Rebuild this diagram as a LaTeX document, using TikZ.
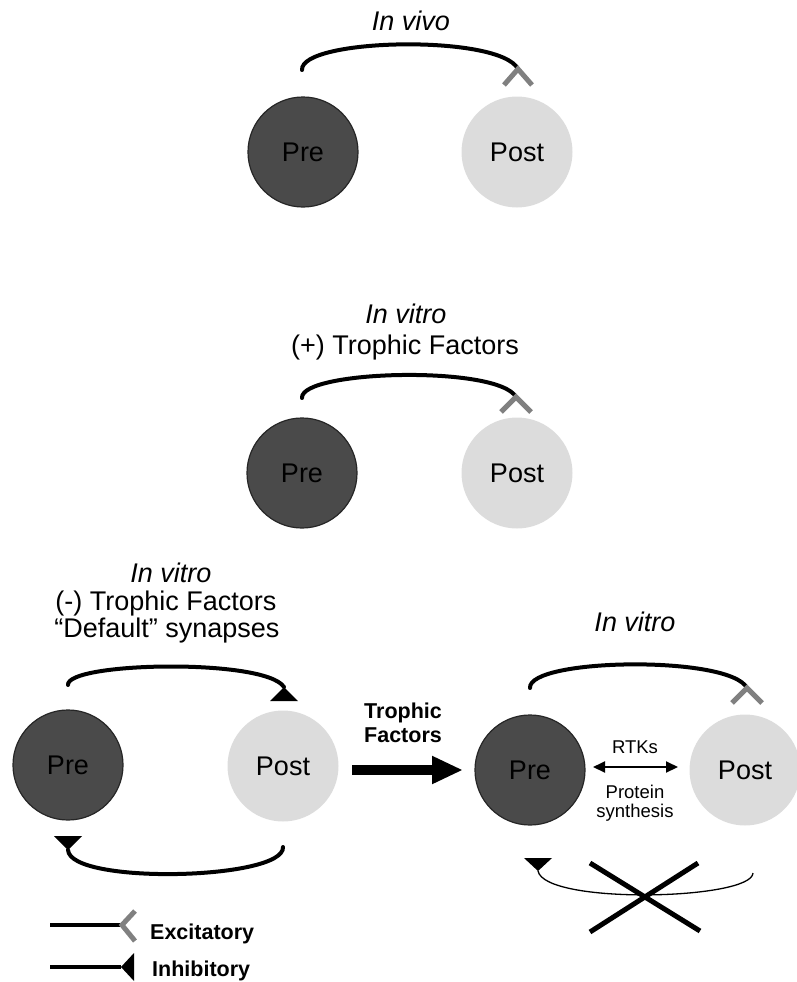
\documentclass[tikz,border=0pt]{standalone}
\usepackage{fontspec}
\setmainfont{Liberation Sans}
\usetikzlibrary{arrows.meta}
\definecolor{predark}{RGB}{74,74,74}
\definecolor{preedge}{RGB}{38,38,38}
\definecolor{postlight}{RGB}{220,220,220}
\definecolor{excgray}{RGB}{128,128,128}
\begin{document}
\begin{tikzpicture}[x=1pt,y=-1pt,
  prec/.style={circle, fill=predark, draw=preedge, line width=1.2pt, minimum size=110pt, inner sep=0pt, font=\fontsize{27}{32}\selectfont},
  postc/.style={circle, fill=postlight, minimum size=111pt, inner sep=0pt, font=\fontsize{27}{32}\selectfont},
  lab/.style={anchor=base, inner sep=0pt, font=\fontsize{27}{32}\selectfont},
  ilab/.style={anchor=base, inner sep=0pt, font=\fontsize{27}{32}\selectfont\itshape},
  blab/.style={anchor=base, inner sep=0pt, font=\fontsize{21.5}{26}\selectfont\bfseries},
  slab/.style={anchor=base, inner sep=0pt, font=\fontsize{18.5}{22}\selectfont},
  conn/.style={draw=black, line width=4pt, line cap=round},
  thinconn/.style={draw=black, line width=1.3pt},
  exc/.style={draw=excgray, line width=5pt, line cap=butt, line join=miter},
  inh/.style={fill=black},
  bigarrow/.style={draw=black, line width=10pt, -{Triangle[length=31pt,width=26pt]}},
  dblarrow/.style={draw=black, line width=2pt, {Triangle[length=12pt,width=11pt]}-{Triangle[length=12pt,width=11pt]}},
  cross/.style={draw=black, line width=5pt}]
\useasboundingbox (0,0) rectangle (796,982);

% ---------- Panel A: in vivo ----------
\node[ilab] (tA) at (411,31) {In vivo};
\node[prec] (preA) at (303,152) {Pre};
\node[postc] (postA) at (517,152) {Post};
\coordinate (sA) at (302,70);
\coordinate (eA) at (518,69);
\draw[conn] (sA) .. controls (300,38) and (500,34) .. (eA);
\draw[exc] (eA) ++(-14,16) -- (eA) -- ++(14,16);

% ---------- Panel B: in vitro (+) ----------
\node[ilab] (tB1) at (406,323) {In vitro};
\node[lab] (tB2) at (405,354) {(+) Trophic Factors};
\node[prec] (preB) at (302,473) {Pre};
\node[postc] (postB) at (517,473) {Post};
\coordinate (sB) at (302,398);
\coordinate (eB) at (516,397);
\draw[conn] (sB) .. controls (300,370) and (498,365) .. (eB);
\draw[exc] (eB) ++(-15,15) -- (eB) -- ++(15,15);

% ---------- Panel C: in vitro (-) ----------
\node[ilab] (tC1) at (171,582) {In vitro};
\node[lab] (tC2) at (166,610) {(-) Trophic Factors};
\node[lab] (tC3) at (167,637) {“Default” synapses};
\node[prec] (preC) at (68,765) {Pre};
\node[postc] (postC) at (283,766) {Post};
\coordinate (sC) at (68,685);
\coordinate (eC) at (284,687);
\draw[conn] (sC) .. controls (66,662) and (265,658) .. (eC);
\fill[inh] (eC) -- ++(14,14) -- ++(-28,0) -- cycle;
\coordinate (sC2) at (283,847);
\coordinate (eC2) at (68,850);
\draw[conn] (sC2) .. controls (285,880) and (70,885) .. (eC2);
\fill[inh] (eC2) -- ++(14,-14) -- ++(-28,0) -- cycle;

% ---------- big arrow ----------
\node[blab] (tf1) at (403,718) {Trophic};
\node[blab] (tf2) at (403,742) {Factors};
\coordinate (ba1) at (352,770);
\coordinate (ba2) at (463,770);
\draw[bigarrow] (ba1) -- (ba2);

% ---------- Panel D: in vitro after trophic factors ----------
\node[ilab] (tD) at (635,631) {In vitro};
\node[prec] (preD) at (530,770) {Pre};
\node[postc] (postD) at (745,770) {Post};
\coordinate (sD) at (530,688);
\coordinate (eD) at (747,688);
\draw[conn] (sD) .. controls (528,658) and (730,655) .. (eD);
\draw[exc] (eD) ++(-15,15) -- (eD) -- ++(15,15);
\node[slab] (rtk) at (635,753) {RTKs};
\coordinate (da1) at (593,767);
\coordinate (da2) at (678,767);
\draw[dblarrow] (da1) -- (da2);
\node[slab] (ps1) at (635,798) {Protein};
\node[slab] (ps2) at (635,817) {synthesis};
\coordinate (eD2) at (538,871);
\coordinate (sD2) at (753,873);
\fill[inh] (eD2) -- ++(14,-13) -- ++(-28,0) -- cycle;
\draw[thinconn] (eD2) .. controls (545,905) and (752,900) .. (sD2);
\coordinate (x1) at (590,863);
\coordinate (x2) at (700,931);
\coordinate (x3) at (698,863);
\coordinate (x4) at (590,932);
\draw[cross] (x1) -- (x2);
\draw[cross] (x3) -- (x4);

% ---------- Legend ----------
\coordinate (le1) at (50,925);
\coordinate (le2) at (122,925);
\draw[draw=black, line width=4pt] (le1) -- (le2);
\draw[exc] (le2) ++(13,-14) -- (le2) -- ++(13,16);
\node[blab, anchor=base west] (lex) at (150,939) {Excitatory};
\coordinate (li1) at (50,967);
\coordinate (li2) at (121,967);
\draw[draw=black, line width=4pt] (li1) -- (li2);
\fill[inh] (li2) -- ++(13,-14) -- ++(0,28) -- cycle;
\node[blab, anchor=base west] (lin) at (152,976) {Inhibitory};
\end{tikzpicture}
\end{document}
